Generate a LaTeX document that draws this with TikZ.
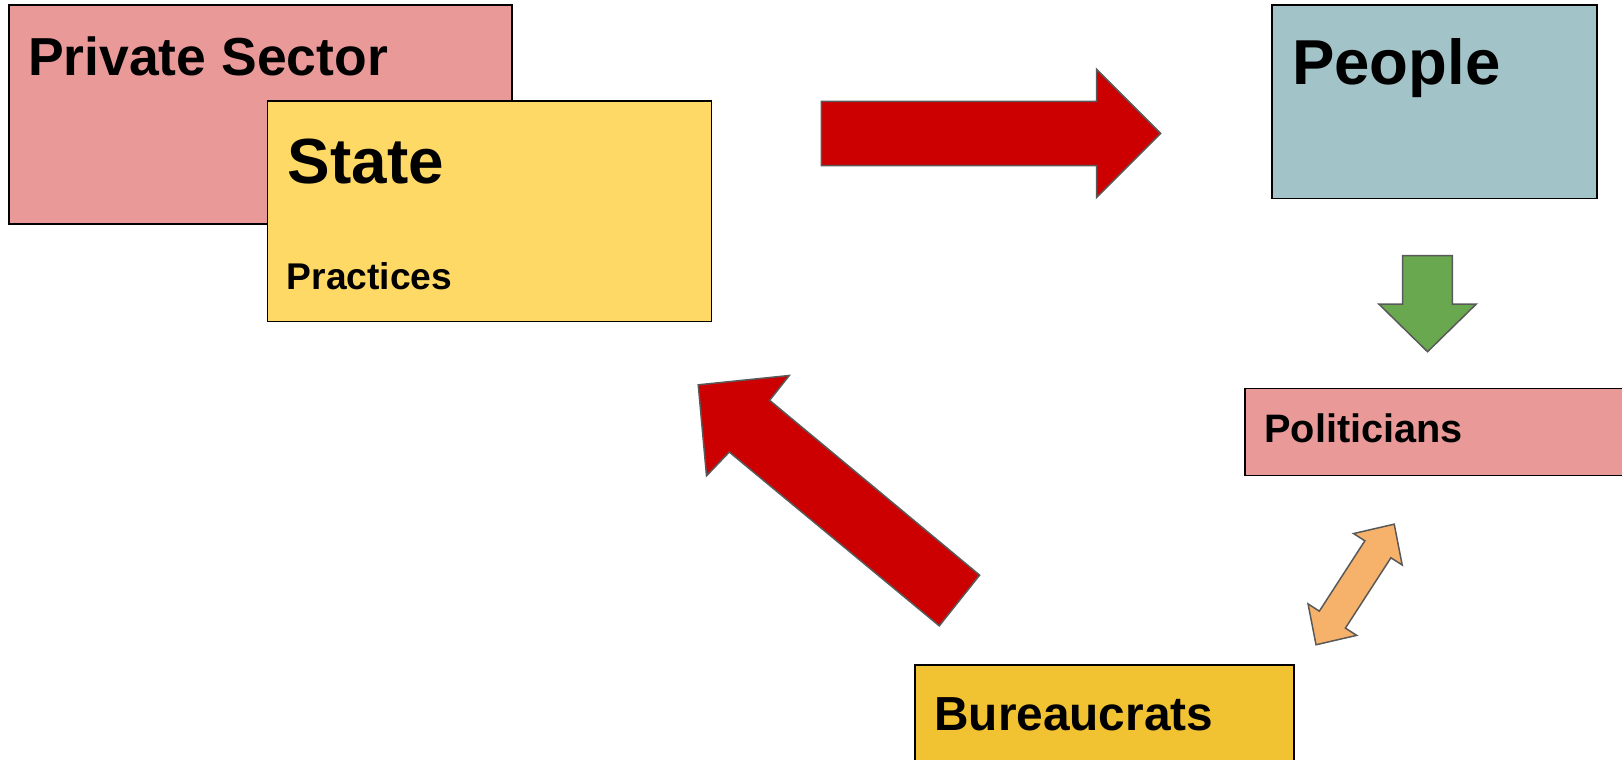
\documentclass[tikz,border=0pt]{standalone}
\usepackage{fontspec}
\setmainfont{Liberation Sans}
\usetikzlibrary{positioning}
\definecolor{pinkbox}{HTML}{EA9999}
\definecolor{yellowbox}{HTML}{FFD966}
\definecolor{bluebox}{HTML}{A2C4C9}
\definecolor{goldbox}{HTML}{F1C232}
\definecolor{redarrow}{HTML}{CC0000}
\definecolor{greenarrow}{HTML}{6AA84F}
\definecolor{orangearrow}{HTML}{F6B26B}
\definecolor{arrowline}{HTML}{595959}
\def\boldsize#1{\fontsize{#1}{#1}\selectfont\bfseries}

\begin{document}
\begin{tikzpicture}[x=1.0344pt, y=-1.0344pt,
	box/.style={draw=black, line width=1.5pt, anchor=north west, inner sep=0},
	boxtext/.style={anchor=base west, inner sep=0},
	blockarrow/.style={draw=arrowline, line width=1.5pt, line join=miter}]
			%%%%% START %%%%%
			\useasboundingbox (0, 0) rectangle (1568, 733.76);
			\clip (0, 0) rectangle (1568, 733.76);
			
			\node[box, fill=pinkbox, minimum width=502.7pt, minimum height=219.3pt] (privsec) at (8, 4) {};
			\node[box, fill=yellowbox, minimum width=443.8pt, minimum height=220.3pt] (state) at (258, 97) {};
			\node[box, fill=bluebox, minimum width=324.8pt, minimum height=193.4pt] (people) at (1229, 4) {};
			\node[box, fill=pinkbox, minimum width=500pt, minimum height=86.9pt] (politicians) at (1203, 375) {};
			\node[box, fill=goldbox, minimum width=378.6pt, minimum height=150pt] (bureaucrats) at (884, 642) {};
			
			\node[boxtext, font=\boldsize{53.5}] (privsectxt) at (27, 73) {Private Sector};
			\node[boxtext, font=\boldsize{63.8}] (statetxt) at (278, 177) {State};
			\node[boxtext, font=\boldsize{37.2}] (practicestxt) at (277, 280) {Practices};
			\node[boxtext, font=\boldsize{63.5}] (peopletxt) at (1249, 82) {People};
			\node[boxtext, font=\boldsize{39.7}] (politicianstxt) at (1222, 428) {Politicians};
			\node[boxtext, font=\boldsize{47.8}] (bureaucratstxt) at (903, 706) {Bureaucrats};
			
			% state -> people
			\draw[blockarrow, fill=redarrow] (794, 98) -- (1060, 98) -- (1060, 67) -- (1122, 129) -- (1060, 191) -- (1060, 160) -- (794, 160) -- cycle;
			
			% people -> politicians
			\draw[blockarrow, fill=greenarrow] (1356, 247) -- (1404, 247) -- (1404, 294) -- (1427, 294) -- (1380, 340) -- (1333, 294) -- (1356, 294) -- cycle;
			
			% politicians <-> bureaucrats
			\draw[blockarrow, fill=orangearrow] (1347.8, 506.7) -- (1355.5, 546.2) -- (1344.6, 539.2) -- (1300.6, 607.2) -- (1311.5, 614.2) -- (1272.2, 623.3) -- (1264.5, 583.8) -- (1275.4, 590.8) -- (1319.4, 522.8) -- (1308.5, 515.8) -- cycle;
			
			% bureaucrats -> state
			\draw[blockarrow, fill=redarrow] (908, 605) -- (705, 437) -- (683, 460) -- (675, 372) -- (763, 363) -- (744, 387) -- (947, 556) -- cycle;
			
			%%%%% END %%%%%
		\end{tikzpicture}
\end{document}
